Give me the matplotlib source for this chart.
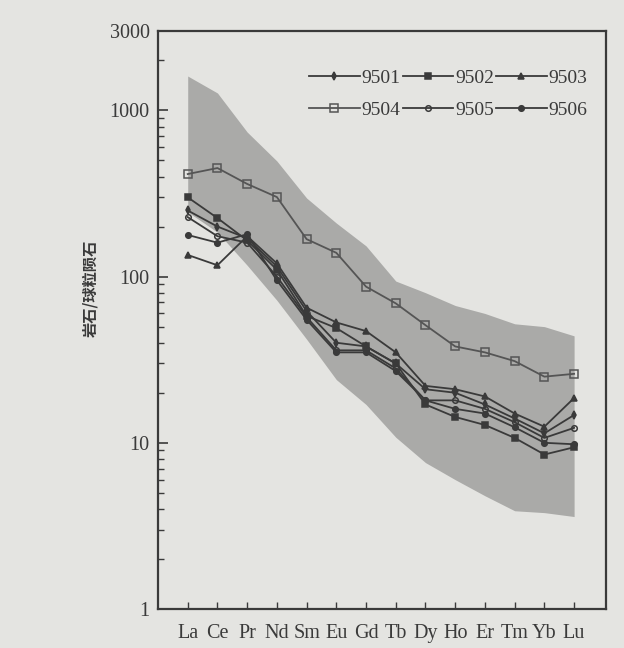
import matplotlib
matplotlib.use("Agg")
import matplotlib.pyplot as plt
from matplotlib.ticker import FixedLocator, NullFormatter

# 稀土元素
ELEMENTS = ["La", "Ce", "Pr", "Nd", "Sm", "Eu", "Gd",
            "Tb", "Dy", "Ho", "Er", "Tm", "Yb", "Lu"]

# 球粒陨石标准化值
S9501 = [250, 200, 170, 115, 62, 40, 38, 30, 21, 20, 17, 14, 11.4, 14.7]
S9502 = [300, 225, 165, 110, 58, 49, 38, 30, 17, 14.3, 12.8, 10.7, 8.5, 9.4]
S9503 = [135, 117, 175, 120, 65, 53, 47, 35, 22, 21, 19, 15, 12.5, 18.6]
S9504 = [414, 450, 361, 301, 168, 139, 87, 69, 51, 38, 35, 31, 25, 26]
S9505 = [228, 175, 160, 100, 57, 36, 36, 28, 18, 18, 16, 13.3, 10.7, 12.3]
S9506 = [178, 160, 180, 95, 55, 35, 35, 27, 18, 16, 15, 12.4, 10, 9.8]

# 阴影区范围
BAND_UPPER = [1610, 1273, 741, 496, 297, 210, 153, 94, 80, 67, 60, 52, 50, 44]
BAND_LOWER = [245, 185, 117, 72, 42, 24, 17, 10.8, 7.6, 6.0, 4.8, 3.9, 3.8, 3.6]

BG = "#e4e4e1"
DARK = "#3a3a3a"

plt.rcParams["font.family"] = ["Liberation Serif", "DejaVu Serif"]

fig = plt.figure(figsize=(6.24, 6.48), dpi=100, facecolor=BG)
ax = fig.add_axes([0.2532, 0.0602, 0.7178, 0.8918])
ax.set_facecolor(BG)

x = list(range(len(ELEMENTS)))
ax.fill_between(x, BAND_LOWER, BAND_UPPER, color="#aaaaa8", linewidth=0, zorder=1)

series = [
    ("9501", S9501, "d", DARK, 4),
    ("9502", S9502, "s", DARK, 4),
    ("9503", S9503, "^", DARK, 5),
    ("9504", S9504, "s", "none", 6),
    ("9505", S9505, "o", "none", 4),
    ("9506", S9506, "o", DARK, 4),
]

handles = {}
for name, vals, mk, face, ms in series:
    col = "#555555" if name == "9504" else DARK
    (ln,) = ax.plot(x, vals, color=col, lw=1.3, marker=mk, markersize=ms,
                    markerfacecolor=face, markeredgecolor=col,
                    markeredgewidth=1.1, zorder=3)
    handles[name] = ln

ax.set_yscale("log")
ax.set_ylim(1, 3000)
ax.set_xlim(-1.0, 14.07)

ax.yaxis.set_major_locator(FixedLocator([1, 10, 100, 1000, 3000]))
ax.set_yticklabels(["1", "10", "100", "1000", "3000"])
minor = [m * d for d in (1, 10, 100, 1000) for m in range(2, 10) if m * d < 3000]
ax.yaxis.set_minor_locator(FixedLocator(minor))
ax.yaxis.set_minor_formatter(NullFormatter())

ax.set_xticks(x)
ax.set_xticklabels(ELEMENTS)

ax.tick_params(axis="y", which="major", direction="in", length=7, width=1.2,
               labelsize=14.5, pad=6, colors=DARK)
ax.tick_params(axis="y", which="minor", direction="in", length=4, width=1.0,
               colors=DARK)
ax.tick_params(axis="x", which="major", direction="in", length=5, width=1.0,
               labelsize=14.5, pad=11, colors=DARK)
ax.tick_params(axis="x", which="minor", bottom=False)

for sp in ax.spines.values():
    sp.set_linewidth(1.6)
    sp.set_color(DARK)

ax.set_ylabel("岩石/球粒陨石", family=["Noto Sans CJK SC", "DejaVu Sans"],
              fontsize=11, fontweight="bold", color=DARK)
ax.yaxis.set_label_coords(-0.133, 0.555)

order = ["9501", "9504", "9502", "9505", "9503", "9506"]
leg = ax.legend([handles[n] for n in order], order, ncol=3, frameon=False,
                loc="upper left", bbox_to_anchor=(0.32, 0.947),
                handlelength=2.6, handletextpad=0.1, columnspacing=0.1,
                labelspacing=0.72, fontsize=14, borderaxespad=0)
for t in leg.get_texts():
    t.set_color(DARK)

fig.savefig("out.png", dpi=100, facecolor=BG)
